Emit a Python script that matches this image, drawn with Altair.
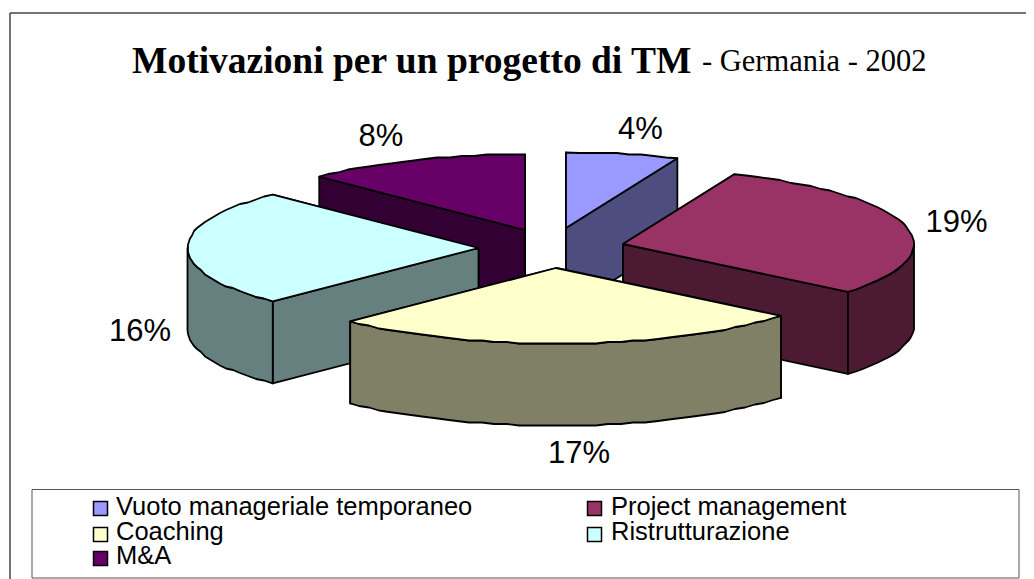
import numpy as np
import pandas as pd
import altair as alt

# ---- data ----
NAMES = ["Vuoto manageriale temporaneo", "Project management", "Coaching", "Ristrutturazione", "M&A"]
VALUES = [4, 19, 17, 16, 8]
LABELS = ["4%", "19%", "17%", "16%", "8%"]
TOPS = ["#9999FF", "#993366", "#FFFFCC", "#CCFFFF", "#660066"]
SIDES = ["#4D4D80", "#4D1A33", "#808066", "#668080", "#330033"]

# ---- layout (reference pixels) ----
W, H = 1026, 579
RX, RY, DEPTH = 291, 75.5, 82
APEX = [(566, 228), (623, 244), (556, 268), (478.5, 248), (525, 230)]
LABEL_POS = [(640.5, 139), (956.5, 232), (579, 463), (140, 341), (381, 146)]
DRAW_ORDER = [4, 0, 3, 1, 2]
LEG_SWATCH_X = [100.5, 594.5, 100.5, 594.5, 100.5]
LEG_SWATCH_Y = [508.5, 508.5, 534.5, 534.5, 558.5]
LEG_TEXT_X = [116, 611, 116, 611, 116]
LEG_TEXT_Y = [515, 515, 540, 540, 564]

xs = alt.Scale(domain=[8, W], range=[0, W - 8], zero=False, nice=False)
ys = alt.Scale(domain=[8, H], range=[0, H - 8], zero=False, nice=False)
X = lambda f="x": alt.X(f"{f}:Q", scale=xs, axis=None)
Y = lambda f="y": alt.Y(f"{f}:Q", scale=ys, axis=None)


def rim(a0, a1, apex):
    """Rim of a slice: stepped like the low-resolution original."""
    n = max(2, int(abs(a1 - a0) / 2.5))
    t = np.radians(np.linspace(a0, a1, n + 1))
    px = apex[0] + RX * np.sin(t)
    py = apex[1] - RY * np.cos(t)
    inner_x, inner_y = np.round(px[1:-1]), np.round(py[1:-1] / 1.5) * 1.5
    return (np.r_[px[0], inner_x, px[-1]], np.r_[py[0], inner_y, py[-1]])


def poly(px, py, fill):
    df = pd.DataFrame({"x": np.r_[px, px[0]], "y": np.r_[py, py[0]]})
    df["i"] = range(len(df))
    return alt.Chart(df).mark_line(fill=fill, stroke="black", strokeWidth=1.8,
                                   strokeJoin="round", clip=False).encode(
        x=X(), y=Y(), order="i:Q")


layers = []

total = sum(VALUES)
edges = np.cumsum([0] + VALUES) / total * 360
for k in DRAW_ORDER:
    a0, a1 = edges[k], edges[k + 1]
    ax, ay = APEX[k]
    rx, ry = rim(a0, a1, APEX[k])
    side, top = SIDES[k], TOPS[k]
    # cut faces
    for a, ex, ey in sorted([(a0, rx[0], ry[0]), (a1, rx[-1], ry[-1])], key=lambda e: e[2]):
        layers.append(poly(np.array([ax, ex, ex, ax]), np.array([ay, ey, ey + DEPTH, ay + DEPTH]), side))
    # outer wall, front half only
    lo, hi = max(a0, 90), min(a1, 270)
    if hi > lo:
        wx, wy = rim(lo, hi, APEX[k])
        layers.append(poly(np.r_[wx, wx[::-1]], np.r_[wy, wy[::-1] + DEPTH], side))
    # top
    layers.append(poly(np.r_[ax, rx], np.r_[ay, ry], top))

# frame and legend box
rules = pd.DataFrame({"x": [10, 10], "x2": [W, 10], "y": [13, 13], "y2": [13, H]})
frame = alt.Chart(rules).mark_rule(color="#444444", strokeWidth=1.5).encode(
    x=X(), x2="x2:Q", y=Y(), y2="y2:Q")
box = alt.Chart(pd.DataFrame({"x": [32], "x2": [1019], "y": [489.5], "y2": [578]})).mark_rect(
    fill="white", stroke="#555555", strokeWidth=1).encode(x=X(), x2="x2:Q", y=Y(), y2="y2:Q")

# percent labels
lab = pd.DataFrame({"x": [p[0] for p in LABEL_POS], "y": [p[1] for p in LABEL_POS], "t": LABELS})
labels = alt.Chart(lab).mark_text(font="Liberation Sans", fontSize=31, align="center",
                                  baseline="alphabetic", color="black").encode(x=X(), y=Y(), text="t:N")

# title
t1 = alt.Chart(pd.DataFrame({"x": [132], "y": [73], "t": ["Motivazioni per un progetto di TM"]})).mark_text(
    font="Liberation Serif", fontWeight="bold", fontSize=37.5, align="left", baseline="alphabetic",
    color="black").encode(x=X(), y=Y(), text="t:N")
t2 = alt.Chart(pd.DataFrame({"x": [702], "y": [71], "t": ["- Germania - 2002"]})).mark_text(
    font="Liberation Serif", fontSize=30.5, align="left", baseline="alphabetic",
    color="black").encode(x=X(), y=Y(), text="t:N")

# legend, drawn so its tight rows can match the reference
swatches = alt.Chart(pd.DataFrame({"n": NAMES, "x": LEG_SWATCH_X, "y": LEG_SWATCH_Y})).mark_square(
    size=196, stroke="black", strokeWidth=1.5, opacity=1).encode(
    x=X(), y=Y(),
    fill=alt.Fill("n:N", scale=alt.Scale(domain=NAMES, range=TOPS), legend=None))
leg_text = alt.Chart(pd.DataFrame({"n": NAMES, "x": LEG_TEXT_X, "y": LEG_TEXT_Y})).mark_text(
    font="Liberation Sans", fontSize=25.5, align="left", baseline="alphabetic", color="black").encode(
    x=X(), y=Y(), text="n:N")

chart = alt.layer(frame, *layers, box, labels, t1, t2, swatches, leg_text).properties(
    width=W - 8, height=H - 8, padding=0, autosize=alt.AutoSizeParams(type="none"),
    background="white"
).configure_view(stroke=None)

chart.save("out.html", embed_options={"renderer": "svg", "actions": False})
